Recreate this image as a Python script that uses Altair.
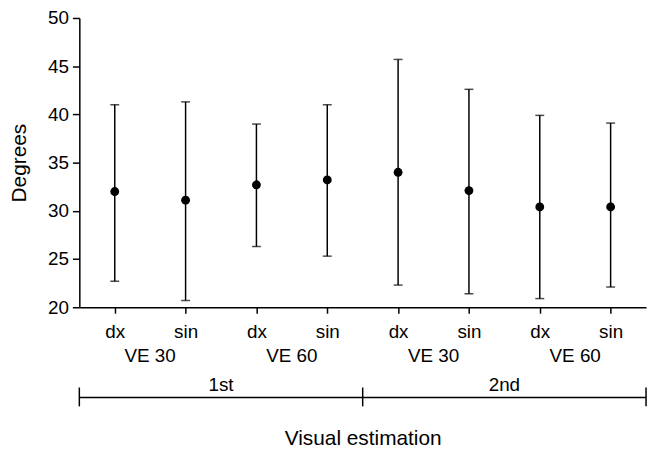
import altair as alt
import pandas as pd

# ---- data ----
conditions = ["dx", "sin", "dx", "sin", "dx", "sin", "dx", "sin"]
ve_groups = ["VE 30", "VE 30", "VE 60", "VE 60", "VE 30", "VE 30", "VE 60", "VE 60"]
sessions = ["1st", "1st", "1st", "1st", "2nd", "2nd", "2nd", "2nd"]
means = [32.0, 31.1, 32.7, 33.2, 34.0, 32.1, 30.4, 30.4]
lower = [22.7, 20.7, 26.3, 25.3, 22.3, 21.4, 20.9, 22.1]
upper = [41.0, 41.3, 39.0, 41.0, 45.7, 42.6, 39.9, 39.1]
y_ticks = [20, 25, 30, 35, 40, 45, 50]

FONT = "Liberation Sans"
n = len(conditions)

df = pd.DataFrame({
    "pos": list(range(n)),
    "cond": conditions,
    "ve": ve_groups,
    "session": sessions,
    "mean": means,
    "lo": lower,
    "hi": upper,
})
df["vekey"] = df["session"] + " " + df["ve"]

ve_df = (df.groupby("vekey", sort=False)
           .agg(pos=("pos", "mean"), label=("ve", "first"))
           .reset_index())
sess_df = (df.groupby("session", sort=False)
             .agg(pos=("pos", "mean"), start=("pos", "min"), end=("pos", "max"))
             .reset_index())
sess_df["start"] = sess_df["start"] - 0.5
sess_df["end"] = sess_df["end"] + 0.5
bounds_df = pd.DataFrame({"pos": sorted(set(sess_df["start"]) | set(sess_df["end"]))})

label_expr = "[" + ",".join("'%s'" % c for c in conditions) + "][datum.value]"

x_scale = alt.Scale(domain=[-0.5, n - 0.5], nice=False, zero=False)
y_scale = alt.Scale(domain=[y_ticks[0], y_ticks[-1]], nice=False, zero=False)

x_axis = alt.Axis(
    values=list(range(n)), labelExpr=label_expr, grid=False,
    title="Visual estimation", titleFontSize=21, titleFontWeight="normal",
    titlePadding=87, titleColor="black",
    labelFontSize=19, labelColor="black", labelPadding=10,
    tickSize=6, tickColor="black", tickWidth=1.5,
    domainColor="black", domainWidth=1.5, labelFont=FONT, titleFont=FONT,
)
y_axis = alt.Axis(
    values=y_ticks, grid=False, title="Degrees",
    titleFontSize=21, titleFontWeight="normal", titlePadding=18, titleColor="black",
    labelFontSize=19, labelColor="black", labelPadding=4,
    tickSize=7, tickColor="black", tickWidth=1.5,
    domainColor="black", domainWidth=1.5, labelFont=FONT, titleFont=FONT,
)

X = alt.X("pos:Q", scale=x_scale, axis=x_axis, title="Visual estimation")


def Y(field):
    return alt.Y(field, scale=y_scale, axis=y_axis, title="Degrees")


base = alt.Chart(df)

bars = base.mark_rule(color="black", strokeWidth=1.5).encode(
    x=X, y=Y("lo:Q"), y2="hi:Q")
cap_lo = base.mark_tick(color="black", size=9, thickness=1.5, orient="horizontal").encode(
    x=X, y=Y("lo:Q"))
cap_hi = base.mark_tick(color="black", size=9, thickness=1.5, orient="horizontal").encode(
    x=X, y=Y("hi:Q"))
points = base.mark_circle(color="black", size=80, opacity=1).encode(
    x=X, y=Y("mean:Q"))

ve_text = alt.Chart(ve_df).mark_text(
    fontSize=19, font=FONT, color="black", baseline="alphabetic", align="center"
).encode(x=X, y=alt.value(347), text="label:N")

sess_text = alt.Chart(sess_df).mark_text(
    fontSize=19, font=FONT, color="black", baseline="alphabetic", align="center"
).encode(x=X, y=alt.value(377), text="session:N")

bracket = alt.Chart(sess_df).mark_rule(color="black", strokeWidth=1.5).encode(
    x=alt.X("start:Q", scale=x_scale, axis=x_axis, title="Visual estimation"),
    x2="end:Q", y=alt.value(383))

bracket_ticks = alt.Chart(bounds_df).mark_rule(color="black", strokeWidth=1.5).encode(
    x=X, y=alt.value(373), y2=alt.value(392))

chart = alt.layer(
    bars, cap_lo, cap_hi, points, ve_text, sess_text, bracket, bracket_ticks
).properties(
    width=572, height=292,
    autosize=alt.AutoSizeParams(type="none"),
    padding={"left": 72, "top": 8, "right": 4, "bottom": 142},
    background="white",
).configure_view(stroke=None)

chart.save("out.html", embed_options={"renderer": "svg", "actions": False})
